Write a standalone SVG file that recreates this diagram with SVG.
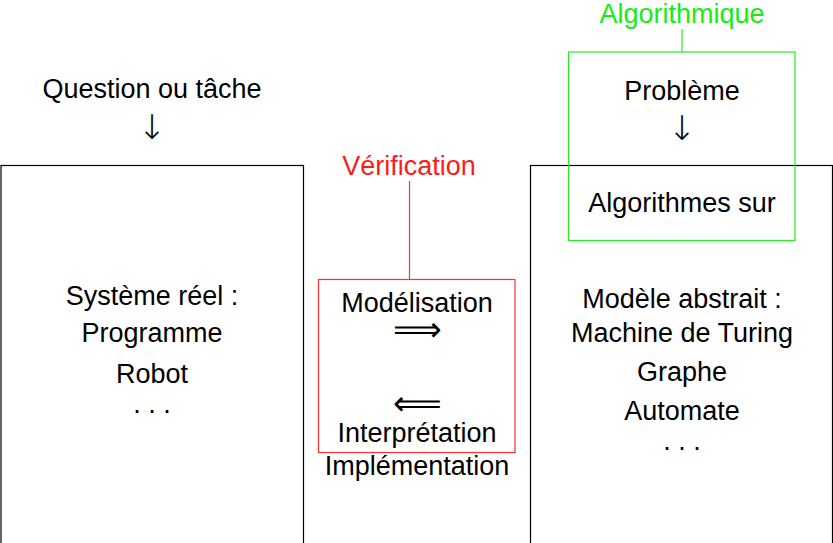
<svg xmlns="http://www.w3.org/2000/svg" width="833" height="543" viewBox="0 0 833 543">
<style>
text{font-family:"Liberation Sans","DejaVu Sans",sans-serif;font-size:27px;text-anchor:middle;fill:#000}
.sym{font-family:"DejaVu Sans",sans-serif;font-weight:200}
.down{font-size:34px}
.impl{font-family:"Noto Sans CJK JP","DejaVu Sans",sans-serif;font-weight:300;font-size:34px}
.box{fill:none;stroke:#000;stroke-width:1.2}
.red{fill:none;stroke:#ff3030;stroke-width:1.2}
.green{fill:none;stroke:#22ee22;stroke-width:1.2}
</style>
<rect width="833" height="543" fill="#fff"/>
<g id="reel">
<rect class="box" x="1" y="165.5" width="302.5" height="400"/>
<text x="152" y="305">Système réel :</text>
<text x="152" y="342">Programme</text>
<text x="152" y="383">Robot</text>
<text x="152" y="413">. . .</text>
</g>
<g id="question">
<text x="152" y="98">Question ou tâche</text>
<text class="sym down" x="152" y="139">↓</text>
</g>
<g id="abstrait">
<rect class="box" x="530.5" y="165.5" width="302" height="400"/>
<text x="682" y="308">Modèle abstrait :</text>
<text x="682" y="342">Machine de Turing</text>
<text x="682" y="381">Graphe</text>
<text x="682" y="420">Automate</text>
<text x="682" y="450">. . .</text>
</g>
<g id="algorithmique">
<rect class="green" x="568.5" y="52" width="226.5" height="188.5"/>
<text x="682" y="23" style="fill:#11ee11">Algorithmique</text>
<text x="682" y="100">Problème</text>
<text class="sym down" x="682" y="140">↓</text>
<text x="682" y="212">Algorithmes sur</text>
</g>
<g id="verification">
<rect class="red" x="318.5" y="279.5" width="196.5" height="173"/>
<text x="409" y="175" style="fill:#ff1a1a">Vérification</text>
<text x="417" y="312">Modélisation</text>
<text class="impl" x="417" y="341">⟹</text>
<text class="impl" x="417" y="415">⟸</text>
<text x="417" y="442">Interprétation</text>
<text x="417" y="475">Implémentation</text>
</g>
<g id="connectors">
<line class="red" x1="409.5" y1="181" x2="409.5" y2="279.5"/>
<line class="green" x1="682" y1="29" x2="682" y2="52"/>
</g>
</svg>
